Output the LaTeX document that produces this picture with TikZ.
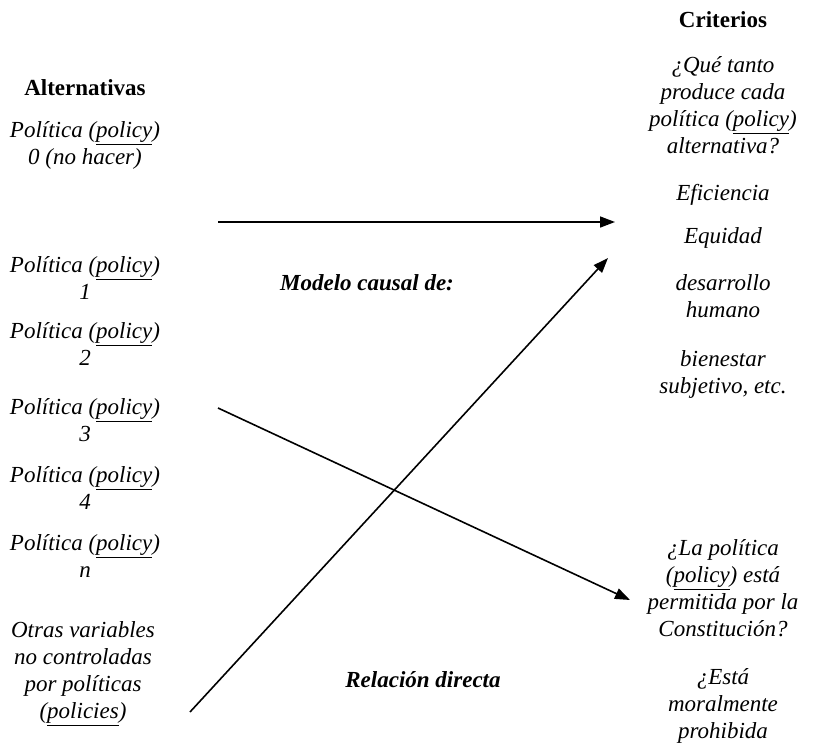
\documentclass[tikz,border=0pt]{standalone}
\usepackage{fontspec}
\setmainfont{Liberation Serif}
\usetikzlibrary{arrows.meta}
\begin{document}
\begin{tikzpicture}[x=1pt,y=-1pt,
  txt/.style={font=\fontsize{23}{27}\selectfont\itshape, align=center, inner sep=0pt},
  head/.style={font=\fontsize{23}{27}\selectfont\bfseries, inner sep=0pt},
  mid/.style={font=\fontsize{23}{27}\selectfont\bfseries\itshape, inner sep=0pt},
  link/.style={line width=1.6pt, -{Triangle[length=15pt,width=11pt]}}]
\useasboundingbox (0,0) rectangle (835,752);

% left column: alternatives
\node[head] (alt) at (85,88) {Alternativas};
\node[txt] (p0) at (85,145.5) {Política (\underline{policy})\\0 (no hacer)};
\node[txt] (p1) at (85,278.5) {Política (\underline{policy})\\1};
\node[txt] (p2) at (85,344.5) {Política (\underline{policy})\\2};
\node[txt] (p3) at (85,420.5) {Política (\underline{policy})\\3};
\node[txt] (p4) at (85,488.5) {Política (\underline{policy})\\4};
\node[txt] (pn) at (85,556.5) {Política (\underline{policy})\\n};
\node[txt] (otras) at (83,673.5) {Otras variables\\no controladas\\por políticas\\(\underline{policies})};

% right column: criteria
\node[head] (crit) at (723,20) {Criterios};
\node[txt] (que) at (723,105.5) {¿Qué tanto\\produce cada\\política (\underline{policy})\\alternativa?};
\node[txt] (efi) at (723,195) {Eficiencia};
\node[txt] (equ) at (723,238) {Equidad};
\node[txt] (des) at (723,296.5) {desarrollo\\humano};
\node[txt] (bie) at (723,374.5) {bienestar\\subjetivo, etc.};
\node[txt] (con) at (723,588.5) {¿La política\\(\underline{policy}) está\\permitida por la\\Constitución?};
\node[txt] (mor) at (723,706) {¿Está\\moralmente\\prohibida};

% middle labels
\node[mid] (modelo) at (367,283) {Modelo causal de:};
\node[mid] (rel) at (423,680) {Relación directa};

% connectors
\coordinate (h0) at (218,222);
\coordinate (h1) at (615,222);
\coordinate (u0) at (190,712);
\coordinate (u1) at (608,258);
\coordinate (d0) at (218,408);
\coordinate (d1) at (630,600);
\draw[link] (h0) -- (h1);
\draw[link] (u0) -- (u1);
\draw[link] (d0) -- (d1);
\end{tikzpicture}
\end{document}
